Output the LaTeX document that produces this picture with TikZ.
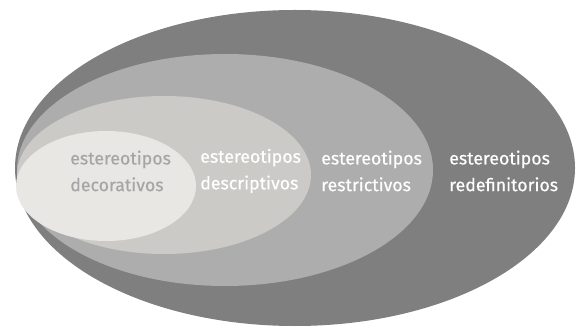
\documentclass[tikz,border=0pt]{standalone}
\usepackage{fontspec}
\setmainfont{Fira Sans}
\newfontfamily\lblfont{Fira Sans}[FakeBold=0.4]
\usepackage{tikz}

\tikzset{
  lbl/.style={anchor=west, align=left, inner sep=0.75pt, font=\lblfont\fontsize{13.3}{20}\selectfont, text=white},
}

\begin{document}
\begin{tikzpicture}[x=0.75pt,y=0.75pt,yscale=-1,xscale=1]
        \useasboundingbox (0,0) rectangle (577,327);
        \fill [white] (0,0) rectangle (577,327);

        %Shape: Ellipse [redefinitorios]
        \fill [color={rgb, 255:red, 127; green, 127; blue, 127 }] (295,168) ellipse (280 and 158);
        %Shape: Ellipse [restrictivos]
        \fill [color={rgb, 255:red, 173; green, 173; blue, 173 }] (225,170) ellipse (208 and 116);
        %Shape: Ellipse [descriptivos]
        \fill [color={rgb, 255:red, 203; green, 202; blue, 198 }] (164,175) ellipse (147 and 79);
        %Shape: Ellipse [decorativos]
        \fill [color={rgb, 255:red, 233; green, 231; blue, 227 }] (106,186) ellipse (90 and 55);

        % Text Node
        \node [lbl, text={rgb, 255:red, 165; green, 165; blue, 165 }] (decor) at (69,171) {estereotipos\\decorativos};
        % Text Node
        \node [lbl] (descr) at (199,171) {estereotipos\\descriptivos};
        % Text Node
        \node [lbl] (restr) at (320,171) {estereotipos\\restrictivos};
        % Text Node
        \node [lbl] (redef) at (448,171) {estereotipos\\redefinitorios};

    \end{tikzpicture}
\end{document}
